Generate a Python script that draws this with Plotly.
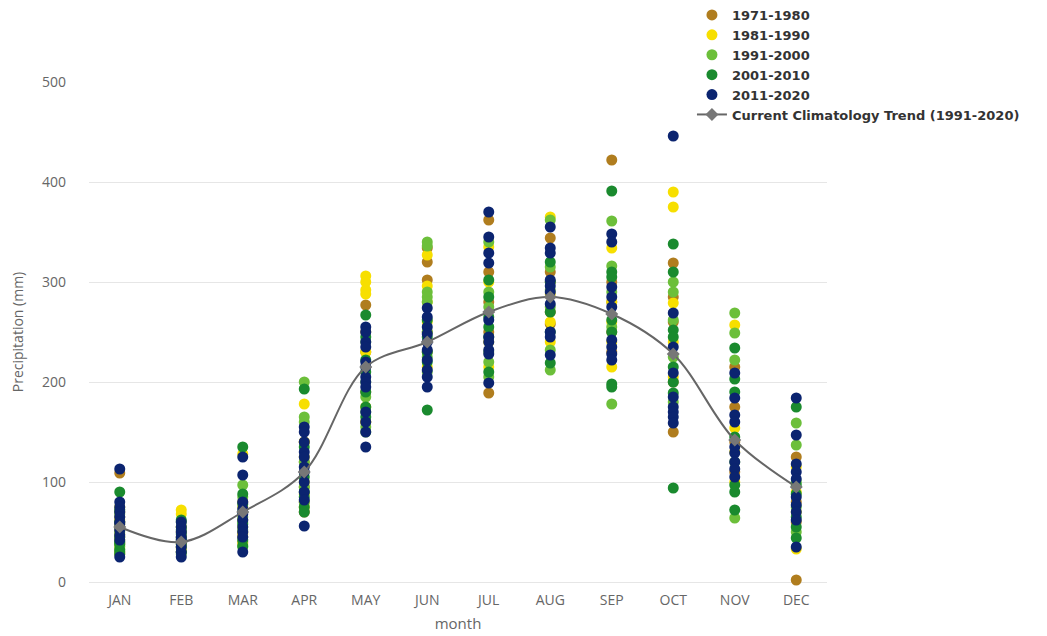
import plotly.graph_objects as go

months = ["JAN", "FEB", "MAR", "APR", "MAY", "JUN", "JUL", "AUG", "SEP", "OCT", "NOV", "DEC"]

d1971_1980 = [
    [109, 60, 45, 38, 70, 52, 30, 65],
    [30, 45, 38, 50, 35],
    [50, 62, 45, 80, 40],
    [95, 120, 80, 70, 140],
    [277, 230, 190, 250, 160],
    [334, 320, 302, 250, 230],
    [362, 310, 189, 250, 280],
    [344, 300, 270, 310, 258],
    [422, 300, 250, 280, 230],
    [319, 285, 150, 260, 200],
    [215, 175, 140, 110],
    [125, 2, 80, 60],
]
d1981_1990 = [
    [42, 35, 58, 48, 62, 28, 75],
    [72, 68, 40, 33, 55],
    [128, 75, 55, 38, 48],
    [178, 140, 125, 100, 88, 75],
    [306, 300, 292, 288, 175, 230, 160],
    [327, 296, 260, 215, 280],
    [215, 300, 240, 335],
    [365, 260, 288, 240],
    [334, 280, 215, 260, 240],
    [390, 375, 279, 240, 205],
    [257, 154, 130, 100],
    [33, 90, 70, 115],
]
d1991_2000 = [
    [30, 40, 50, 36, 68, 55, 33],
    [28, 55, 35, 42, 60],
    [97, 65, 52, 35, 85, 60],
    [200, 165, 160, 120, 95, 80],
    [200, 185, 170, 155, 150, 240],
    [340, 336, 290, 285, 280, 225, 210, 250],
    [340, 290, 275, 220, 230, 205],
    [362, 315, 232, 212, 275, 292],
    [361, 316, 255, 178, 290],
    [300, 290, 262, 225, 180],
    [269, 249, 222, 64, 120],
    [159, 137, 50, 75, 100],
]
d2001_2010 = [
    [90, 32, 40, 45, 38, 60, 28, 72],
    [62, 48, 38, 30, 44, 52],
    [135, 88, 78, 58, 42, 36, 70],
    [193, 105, 90, 85, 75, 70, 135],
    [267, 245, 222, 210, 175, 165, 190],
    [262, 245, 230, 172, 220],
    [302, 285, 265, 255, 210, 245],
    [320, 270, 219, 250, 300],
    [391, 310, 305, 262, 250, 198, 195],
    [338, 310, 252, 245, 200, 189, 94, 215],
    [234, 203, 190, 97, 90, 72, 145],
    [175, 97, 55, 44, 88, 65],
]
d2011_2020 = [
    [113, 80, 75, 70, 65, 58, 52, 47, 42, 25, 60],
    [60, 55, 50, 45, 40, 35, 30, 25, 42],
    [125, 107, 80, 73, 68, 62, 55, 50, 45, 30],
    [155, 150, 140, 130, 125, 115, 110, 100, 90, 82, 56],
    [255, 250, 240, 235, 220, 215, 205, 200, 195, 170, 160, 150, 135],
    [274, 265, 255, 248, 240, 232, 222, 212, 205, 195],
    [370, 345, 329, 319, 262, 245, 240, 232, 228, 199],
    [355, 334, 329, 302, 296, 290, 278, 250, 245, 227],
    [348, 340, 295, 285, 242, 235, 228, 222, 275],
    [446, 269, 235, 209, 185, 175, 170, 165, 159],
    [209, 184, 167, 160, 129, 120, 113, 105, 135],
    [184, 147, 118, 110, 103, 85, 77, 70, 62, 35],
]
trend = [55, 40, 70, 110, 215, 240, 270, 285, 268, 228, 142, 95]

series = [
    ("1971-1980", d1971_1980, "#B07D1E"),
    ("1981-1990", d1981_1990, "#F7DF00"),
    ("1991-2000", d1991_2000, "#6CBF3A"),
    ("2001-2010", d2001_2010, "#1A8A2E"),
    ("2011-2020", d2011_2020, "#0B2470"),
]

fig = go.Figure()
for name, data, color in series:
    xs, ys = [], []
    for m, vals in zip(months, data):
        for v in vals:
            xs.append(m)
            ys.append(v)
    fig.add_trace(go.Scatter(
        x=xs, y=ys, mode="markers", name=name, cliponaxis=False,
        marker=dict(color=color, size=11, line=dict(width=0)),
    ))

fig.add_trace(go.Scatter(
    x=months, y=trend, mode="lines+markers", name="Current Climatology Trend (1991-2020)",
    line=dict(color="#666666", width=2, shape="spline"),
    marker=dict(color="#777777", size=10, symbol="diamond"),
    cliponaxis=False,
))

axis_font = dict(family="Open Sans", size=14, color="#666666")
fig.update_layout(
    width=1039, height=628,
    margin=dict(l=81, r=220, t=74, b=54, autoexpand=False),
    plot_bgcolor="white", paper_bgcolor="white",
    showlegend=True,
    legend=dict(
        x=0.817, y=1.164, xref="paper", yref="paper", xanchor="left", yanchor="top",
        font=dict(family="DejaVu Sans", size=13, color="#333333", weight="bold"),
        bgcolor="rgba(0,0,0,0)", itemwidth=30, tracegroupgap=0,
    ),
    xaxis=dict(
        type="category", categoryorder="array", categoryarray=months,
        range=[-0.5, 11.5], showgrid=False, showline=False, ticks="",
        tickfont=axis_font, ticklabelstandoff=8, automargin=False,
        title=dict(text="month", font=dict(family="Open Sans", size=15, color="#666666"), standoff=10),
    ),
    yaxis=dict(
        range=[0, 500], tickvals=[0, 100, 200, 300, 400, 500],
        showgrid=True, gridcolor="#e6e6e6", gridwidth=1,
        zeroline=True, zerolinecolor="#e6e6e6", zerolinewidth=1,
        showline=False, ticks="", tickfont=axis_font, ticklabelstandoff=22,
        automargin=False,
        title=dict(text="Precipitation (mm)", font=dict(family="Open Sans", size=14, color="#666666"), standoff=15),
    ),
)

fig.write_html("out.html")
